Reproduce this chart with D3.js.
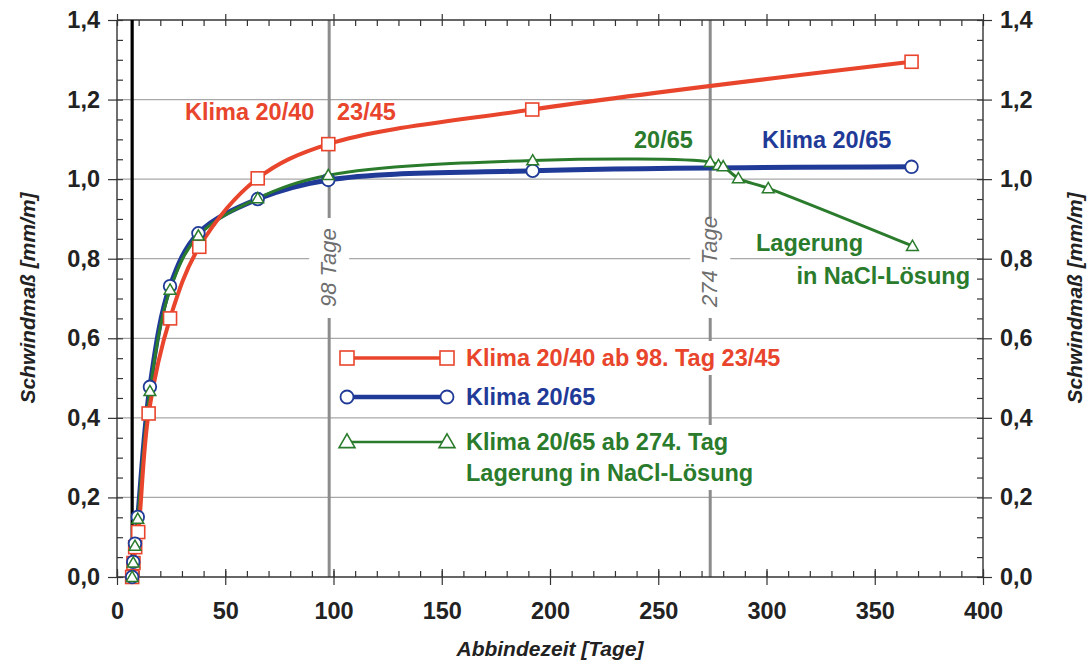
<!DOCTYPE html>
<html><head><meta charset="utf-8">
<script src="https://cdn.jsdelivr.net/npm/d3@7"></script>
<style>body{margin:0;background:#fff}svg{display:block}</style></head>
<body><svg id="c" width="1090" height="666"></svg>
<script>
const xTicks=[0,50,100,150,200,250,300,350,400];
const yTicks=[0,0.2,0.4,0.6,0.8,1.0,1.2,1.4];
const markerDays=[98,274];
const startDay=7;
const redX=[7,7.6,8.4,9.8,14.6,24.5,38,65,97.6,191.8,367];
const redY=[0,0.035,0.075,0.113,0.411,0.65,0.83,1.002,1.088,1.175,1.295];
const blueX=[7,7.5,8.3,9.6,15.2,24.5,37.6,65,97.6,192,367];
const blueY=[0,0.038,0.084,0.151,0.478,0.731,0.864,0.95,0.998,1.021,1.031];
const greenX=[7,7.5,8.3,9.6,15.2,24.5,37.6,65,97.6,192,274,277.8,280,287,300.8,367.4];
const greenY=[0,0.036,0.078,0.146,0.467,0.722,0.858,0.952,1.01,1.047,1.043,1.035,1.032,1.002,0.977,0.832];
const legendLabels=[["Klima 20/40 ab 98. Tag 23/45"],["Klima 20/65"],["Klima 20/65 ab 274. Tag","Lagerung in NaCl-Lösung"]];

const RED="#e8452c", BLUE="#1f3a97", GREEN="#2a7b2c", GRAY="#8c8c8c";
const FS=23.5;
const svg=d3.select("#c");
const x=d3.scaleLinear().domain([0,400]).range([117,983]);
const y=d3.scaleLinear().domain([0,1.4]).range([577,20]);
const fmt=v=>d3.format(".1f")(v).replace(".",",");
const FONT="'Liberation Sans', Arial, sans-serif";

// gridlines
svg.append("g").selectAll("line").data(yTicks.filter(v=>v>0&&v<1.4)).join("line")
 .attr("x1",x(0)).attr("x2",x(400)).attr("y1",d=>y(d)).attr("y2",d=>y(d))
 .attr("stroke","#a8a8a8").attr("stroke-width",1.2);

// marker day lines
svg.append("g").selectAll("line").data(markerDays).join("line")
 .attr("x1",d=>x(d)).attr("x2",d=>x(d)).attr("y1",y(1.4)).attr("y2",y(0))
 .attr("stroke",GRAY).attr("stroke-width",3);

// knockouts + labels for marker days
markerDays.forEach(d=>{
  svg.append("rect").attr("x",x(d)-20).attr("y",218).attr("width",40).attr("height",100).attr("fill","#fff");
  svg.append("text").attr("transform",`translate(${x(d)+7},307) rotate(-90)`)
   .attr("text-anchor","start").attr("font-family",FONT).attr("font-style","italic")
   .attr("font-size",22).attr("fill","#6e6e6e").text(d+" Tage");
});

// axes frame
const frame=svg.append("g").attr("stroke","#333").attr("stroke-width",1.4);
frame.append("line").attr("x1",x(0)).attr("x2",x(400)).attr("y1",y(0)).attr("y2",y(0));
frame.append("line").attr("x1",x(0)).attr("x2",x(400)).attr("y1",y(1.4)).attr("y2",y(1.4));
frame.append("line").attr("x1",x(0)).attr("x2",x(0)).attr("y1",y(0)).attr("y2",y(1.4));
frame.append("line").attr("x1",x(400)).attr("x2",x(400)).attr("y1",y(0)).attr("y2",y(1.4));

// axes with d3
const minorX=d3.range(0,401,10);
const minorY=d3.range(0,1.401,0.05);
function styleAxis(g){g.select(".domain").remove();g.selectAll("line").attr("stroke","#333").attr("stroke-width",1.2);}
function styleText(g){g.selectAll("text").attr("font-family",FONT).attr("font-weight","bold").attr("font-size",FS).attr("fill","#222");}
svg.append("g").attr("transform",`translate(0,${y(0)})`).call(d3.axisBottom(x).tickValues(minorX).tickSize(-6).tickFormat("")).call(styleAxis);
svg.append("g").attr("transform",`translate(0,${y(1.4)})`).call(d3.axisTop(x).tickValues(minorX).tickSize(-6).tickFormat("")).call(styleAxis);
svg.append("g").attr("transform",`translate(0,${y(0)})`).call(d3.axisBottom(x).tickValues(xTicks).tickSizeInner(8).tickSizeOuter(0).tickFormat(d=>d).tickPadding(17))
 .call(styleAxis).call(g=>g.selectAll("line").attr("y1",-8)).call(styleText);
svg.append("g").attr("transform",`translate(0,${y(1.4)})`).call(d3.axisTop(x).tickValues(xTicks).tickSize(6).tickFormat("")).call(styleAxis);
svg.append("g").attr("transform",`translate(${x(0)},0)`).call(d3.axisLeft(y).tickValues(minorY).tickSize(-6).tickFormat("")).call(styleAxis);
svg.append("g").attr("transform",`translate(${x(400)},0)`).call(d3.axisRight(y).tickValues(minorY).tickSize(-6).tickFormat("")).call(styleAxis);
svg.append("g").attr("transform",`translate(${x(0)},0)`).call(d3.axisLeft(y).tickValues(yTicks).tickSize(9).tickPadding(8).tickFormat(fmt))
 .call(styleAxis).call(styleText);
svg.append("g").attr("transform",`translate(${x(400)},0)`).call(d3.axisRight(y).tickValues(yTicks).tickSize(9).tickPadding(8).tickFormat(fmt))
 .call(styleAxis).call(styleText);

// start line
svg.append("line").attr("x1",x(startDay)).attr("x2",x(startDay)).attr("y1",y(1.4)).attr("y2",y(0))
 .attr("stroke","#000").attr("stroke-width",3.2);

// legend (with white knockouts)
const legX1=347, legX2=447, legTX=466, legRows=[358,397,442];
const legColors=[RED,BLUE,GREEN], legW=[3.5,4.5,2.5];
legendLabels.forEach((lines,i)=>{
  const t=svg.append("text").attr("font-family",FONT).attr("font-weight","bold").attr("font-size",FS).attr("fill",legColors[i]);
  lines.forEach((s,j)=>t.append("tspan").attr("x",legTX).attr("y",legRows[i]+8+j*31).text(s));
  const bb=t.node().getBBox();
  svg.insert("rect",()=>t.node()).attr("x",bb.x-6).attr("y",bb.y-4).attr("width",bb.width+12).attr("height",bb.height+8).attr("fill","#fff");
  svg.append("line").attr("x1",legX1).attr("x2",legX2).attr("y1",legRows[i]).attr("y2",legRows[i]).attr("stroke",legColors[i]).attr("stroke-width",legW[i]);
});

// series lines
const line=d3.line().curve(d3.curveCatmullRom.alpha(0.5)).x(d=>x(d[0])).y(d=>y(d[1]));
const blue=blueX.map((v,i)=>[v,blueY[i]]), green=greenX.map((v,i)=>[v,greenY[i]]), red=redX.map((v,i)=>[v,redY[i]]);
svg.append("path").attr("d",line(blue)).attr("fill","none").attr("stroke",BLUE).attr("stroke-width",5);
svg.append("path").attr("d",line(green)).attr("fill","none").attr("stroke",GREEN).attr("stroke-width",3);
svg.append("path").attr("d",line(red)).attr("fill","none").attr("stroke",RED).attr("stroke-width",4);

// markers
function squares(data,c){svg.append("g").selectAll("rect").data(data).join("rect")
 .attr("x",d=>x(d[0])-6.5).attr("y",d=>y(d[1])-6.5).attr("width",13).attr("height",13)
 .attr("fill","#fff").attr("stroke",c).attr("stroke-width",1.6);}
function circles(data,c){svg.append("g").selectAll("circle").data(data).join("circle")
 .attr("cx",d=>x(d[0])).attr("cy",d=>y(d[1])).attr("r",6.3)
 .attr("fill","#fff").attr("stroke",c).attr("stroke-width",1.8);}
const tri=d3.symbol().type(d3.symbolTriangle).size(60);
function triangles(data,c){svg.append("g").selectAll("path").data(data).join("path")
 .attr("d",tri).attr("transform",d=>`translate(${x(d[0])},${y(d[1])+1})`)
 .attr("fill","#fff").attr("stroke",c).attr("stroke-width",1.5);}
squares(red,RED); circles(blue,BLUE); triangles(green,GREEN);
// legend markers
[[legX1,legRows[0]],[legX2,legRows[0]]].forEach(p=>svg.append("rect").attr("x",p[0]-7).attr("y",p[1]-7).attr("width",14).attr("height",14).attr("fill","#fff").attr("stroke",RED).attr("stroke-width",1.6));
[[legX1,legRows[1]],[legX2,legRows[1]]].forEach(p=>svg.append("circle").attr("cx",p[0]).attr("cy",p[1]).attr("r",6.5).attr("fill","#fff").attr("stroke",BLUE).attr("stroke-width",1.8));
const triL=d3.symbol().type(d3.symbolTriangle).size(110);
[[legX1,legRows[2]],[legX2,legRows[2]]].forEach(p=>svg.append("path").attr("d",triL).attr("transform",`translate(${p[0]},${p[1]+1})`).attr("fill","#fff").attr("stroke",GREEN).attr("stroke-width",1.6));

// annotations
function ann(tx,ty,s,c,anchor){svg.append("text").attr("x",tx).attr("y",ty).attr("text-anchor",anchor||"start")
 .attr("font-family",FONT).attr("font-weight","bold").attr("font-size",FS).attr("fill",c).text(s);}
ann(185,120,"Klima 20/40",RED); ann(337,120,"23/45",RED);
ann(634,148,"20/65",GREEN); ann(762,148,"Klima 20/65",BLUE);
ann(756,251,"Lagerung",GREEN); ann(970,284,"in NaCl-Lösung",GREEN,"end");

// axis titles
const tt={"font-family":FONT,"font-weight":"bold","font-style":"italic","font-size":21,"fill":"#222"};
const lt=svg.append("text").attr("transform","translate(35,298) rotate(-90)").attr("text-anchor","middle").text("Schwindmaß [mm/m]");
const rt=svg.append("text").attr("transform","translate(1082,298) rotate(-90)").attr("text-anchor","middle").text("Schwindmaß [mm/m]");
const bt=svg.append("text").attr("x",550).attr("y",656).attr("text-anchor","middle").text("Abbindezeit [Tage]");
[lt,rt,bt].forEach(t=>Object.entries(tt).forEach(([k,v])=>t.attr(k,v)));
</script></body></html>
